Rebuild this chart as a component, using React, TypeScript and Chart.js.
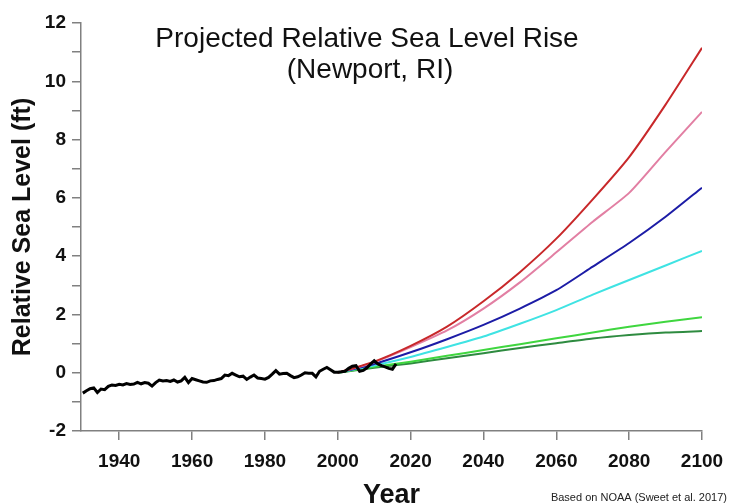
import React, { useEffect, useRef } from "react";
import { Chart, registerables } from "chart.js";

Chart.register(...registerables);

// Observed relative sea level (ft), annual
const obsYears: number[] = [];
for (let y = 1930; y <= 2016; y++) obsYears.push(y);
const obsValues = [
  -0.70, -0.62, -0.55, -0.52, -0.68, -0.56, -0.58, -0.47, -0.42, -0.44,
  -0.40, -0.42, -0.37, -0.40, -0.39, -0.33, -0.38, -0.34, -0.36, -0.46,
  -0.34, -0.25, -0.28, -0.27, -0.30, -0.25, -0.32, -0.28, -0.16, -0.34,
  -0.20, -0.24, -0.28, -0.32, -0.33, -0.28, -0.27, -0.23, -0.20, -0.08,
  -0.10, -0.02, -0.08, -0.14, -0.12, -0.23, -0.15, -0.08, -0.18, -0.20,
  -0.22, -0.16, -0.05, 0.07, -0.05, -0.03, -0.02, -0.10, -0.17, -0.14,
  -0.08, 0.0, -0.02, -0.02, -0.14, 0.05, 0.12, 0.18, 0.10, 0.02,
  0.02, 0.03, 0.05, 0.15, 0.22, 0.24, 0.05, 0.08, 0.17, 0.30,
  0.41, 0.30, 0.24, 0.20, 0.15, 0.12, 0.30,
];

// Projection scenarios (ft)
const projYears = [2000, 2010, 2020, 2030, 2040, 2050, 2060, 2070, 2080, 2090, 2100];
const extreme = [0, 0.38, 0.92, 1.58, 2.45, 3.45, 4.6, 5.95, 7.4, 9.2, 11.15];
const high = [0, 0.36, 0.88, 1.45, 2.2, 3.1, 4.13, 5.18, 6.17, 7.58, 8.95];
const intHigh = [0, 0.3, 0.7, 1.15, 1.64, 2.2, 2.83, 3.64, 4.45, 5.35, 6.35];
const intermediate = [0, 0.25, 0.54, 0.88, 1.24, 1.68, 2.15, 2.68, 3.18, 3.68, 4.18];
const intLow = [0, 0.2, 0.38, 0.58, 0.78, 0.98, 1.18, 1.38, 1.58, 1.75, 1.9];
const low = [0, 0.17, 0.32, 0.5, 0.67, 0.85, 1.01, 1.17, 1.29, 1.38, 1.43];

const xTickValues = [1940, 1960, 1980, 2000, 2020, 2040, 2060, 2080, 2100];

const titleLines = ["Projected Relative Sea Level Rise", "(Newport, RI)"];
const sourceNote = "Based on NOAA (Sweet et al. 2017)";

const FONT = "'Liberation Sans', Arial, sans-serif";

const toPts = (xs: number[], ys: number[]) => xs.map((x, i) => ({ x, y: ys[i] }));

const textPlugin = {
  id: "textPlugin",
  afterDraw(chart: any) {
    const ctx = chart.ctx;
    ctx.save();
    ctx.fillStyle = "#111";
    ctx.textAlign = "center";
    ctx.textBaseline = "alphabetic";
    ctx.font = `28px ${FONT}`;
    ctx.fillText(titleLines[0], 367, 47);
    ctx.fillText(titleLines[1], 370, 78);
    ctx.font = `11px ${FONT}`;
    ctx.textAlign = "right";
    ctx.fillStyle = "#222";
    ctx.fillText(sourceNote, 727, 501);
    ctx.restore();
  },
};

export default function App() {
  const ref = useRef<HTMLCanvasElement>(null);
  useEffect(() => {
    if (!ref.current) return;
    const line = (data: any, color: string, width: number, order: number) => ({
      data,
      borderColor: color,
      backgroundColor: color,
      borderWidth: width,
      pointRadius: 0,
      tension: 0.2,
      fill: false,
      order,
    });
    const chart = new Chart(ref.current, {
      type: "line",
      data: {
        datasets: [
          { ...line(toPts(obsYears, obsValues), "#000000", 3, 0), tension: 0 },
          line(toPts(projYears, extreme), "#c8282a", 2, 1),
          line(toPts(projYears, high), "#e27fa3", 2, 2),
          line(toPts(projYears, intHigh), "#1c1ca6", 2, 3),
          line(toPts(projYears, intermediate), "#3fe3e3", 2, 4),
          line(toPts(projYears, intLow), "#3fd63f", 2, 5),
          line(toPts(projYears, low), "#2e8b40", 2, 6),
        ] as any,
      },
      options: {
        animation: false,
        responsive: false,
        events: [],
        layout: { padding: { top: 23, right: 27, left: 0, bottom: 0 } },
        plugins: { legend: { display: false }, tooltip: { enabled: false }, title: { display: false } },
        scales: {
          x: {
            type: "linear",
            min: 1929.5,
            max: 2100,
            afterBuildTicks: (scale: any) => {
              scale.ticks = xTickValues.map((v) => ({ value: v }));
            },
            afterFit: (scale: any) => {
              scale.height = 73;
              scale.paddingLeft = 0;
              scale.paddingRight = 0;
            },
            grid: { drawOnChartArea: false, drawTicks: true, tickLength: 9, color: "#808080", lineWidth: 1.5 },
            border: { display: true, color: "#808080", width: 1.5 },
            ticks: {
              padding: 10,
              color: "#111",
              font: { family: FONT, size: 19, weight: "bold" },
              maxRotation: 0,
              autoSkip: false,
              callback: (v: any) => String(v),
            },
            title: {
              display: true,
              text: "Year",
              color: "#111",
              font: { family: FONT, size: 27, weight: "bold", lineHeight: 0.6 },
              padding: { top: 0, bottom: 0 },
            },
          },
          y: {
            type: "linear",
            min: -2,
            max: 12,
            afterFit: (scale: any) => {
              scale.width = 81;
              scale.paddingTop = 0;
              scale.paddingBottom = 0;
            },
            grid: { drawOnChartArea: false, drawTicks: true, tickLength: 9, color: "#808080", lineWidth: 1.5 },
            border: { display: true, color: "#808080", width: 1.5 },
            ticks: {
              stepSize: 1,
              padding: 6,
              color: "#111",
              font: { family: FONT, size: 19, weight: "bold" },
              callback: (v: any) => (Number(v) % 2 === 0 ? String(v) : ""),
            },
            title: {
              display: true,
              text: "Relative Sea Level (ft)",
              color: "#111",
              font: { family: FONT, size: 25, weight: "bold" },
              padding: { top: 8, bottom: 0 },
            },
          },
        },
      } as any,
      plugins: [textPlugin],
    });
    return () => chart.destroy();
  }, []);
  return (
    <div style={{ position: "absolute", left: 0, top: 0, width: 729, height: 504, background: "#fff" }}>
      <canvas ref={ref} width={729} height={504} style={{ display: "block" }} />
    </div>
  );
}
